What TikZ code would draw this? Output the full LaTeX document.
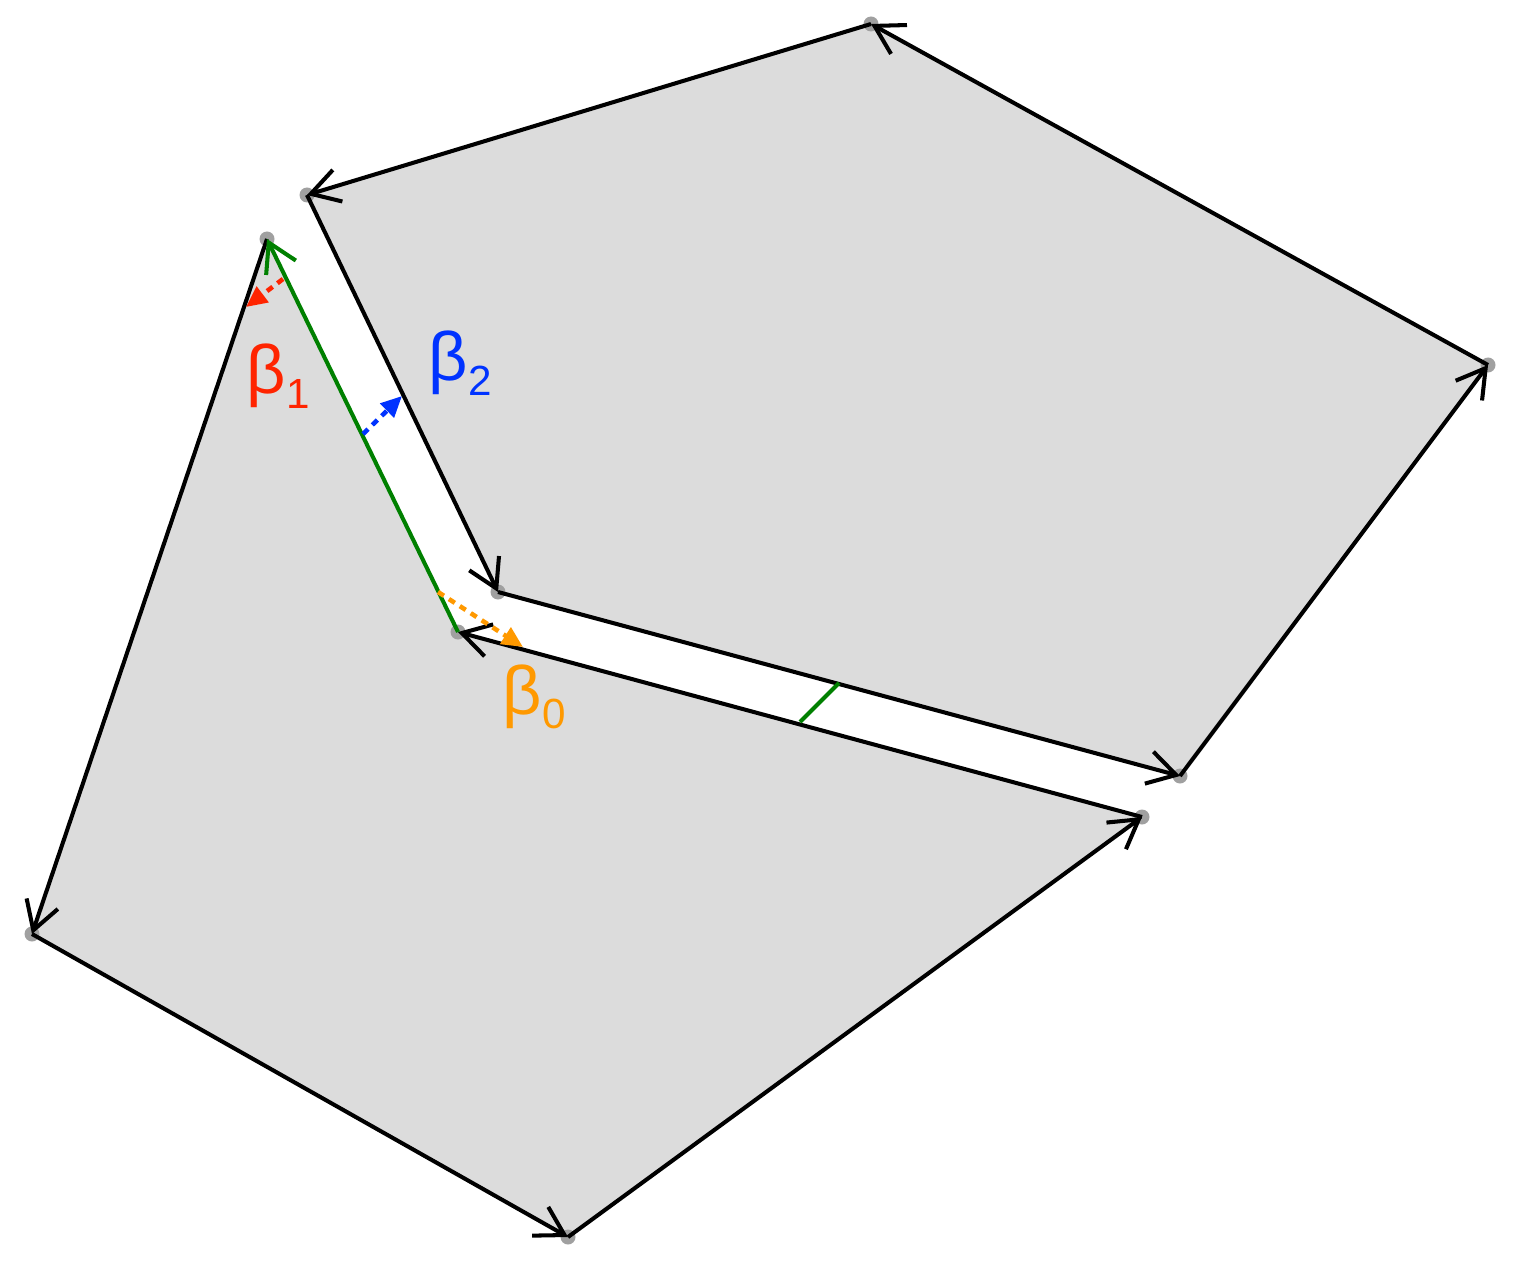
\documentclass[tikz,border=0pt]{standalone}
\usepackage{fontspec}
\setmainfont{Liberation Sans}
\usetikzlibrary{arrows.meta}

\definecolor{fillgray}{RGB}{220,220,220}
\definecolor{dotgray}{RGB}{160,160,160}
\definecolor{edgegreen}{RGB}{0,128,0}
\definecolor{betared}{RGB}{255,36,0}
\definecolor{betablue}{RGB}{0,51,255}
\definecolor{betaorange}{RGB}{255,153,0}

\newcommand{\betalabel}[1]{\fontsize{19.5}{22}\selectfont β\raisebox{-4pt}{\fontsize{12}{13}\selectfont #1}}

\begin{document}
\begin{tikzpicture}[
    edge/.style={line width=1.15pt, line join=round, -{Straight Barb[length=2.8mm,width=3.3mm]}},
    normal/.style={line width=1.3pt, dash pattern=on 0.7mm off 0.6mm, -{Triangle[length=2.1mm,width=1.9mm]}},
    vertex/.style={circle, fill=dotgray, inner sep=0pt, minimum size=1.5mm},
    beta/.style={anchor=base west, inner sep=0pt}]
    \useasboundingbox (0,0) rectangle (15.28,-12.65);

    % upper polygon
    \coordinate (u1) at (3.07,-1.95);
    \coordinate (u2) at (8.71,-0.24);
    \coordinate (u3) at (14.88,-3.65);
    \coordinate (u4) at (11.80,-7.76);
    \coordinate (u5) at (4.98,-5.92);
    % lower polygon
    \coordinate (l1) at (2.67,-2.39);
    \coordinate (l2) at (0.32,-9.34);
    \coordinate (l3) at (5.68,-12.37);
    \coordinate (l4) at (11.42,-8.17);
    \coordinate (l5) at (4.58,-6.32);

    \fill[fillgray] (u1) -- (u5) -- (u4) -- (u3) -- (u2) -- cycle;
    \fill[fillgray] (l1) -- (l2) -- (l3) -- (l4) -- (l5) -- cycle;

    \foreach \v in {u1,u2,u3,u4,u5,l1,l2,l3,l4,l5}
        \node[vertex] at (\v) {};

    \draw[edge] (u1) -- (u5);
    \draw[edge] (u5) -- (u4);
    \draw[edge] (u4) -- (u3);
    \draw[edge] (u3) -- (u2);
    \draw[edge] (u2) -- (u1);

    \draw[edge] (l1) -- (l2);
    \draw[edge] (l2) -- (l3);
    \draw[edge] (l3) -- (l4);
    \draw[edge] (l4) -- (l5);
    \draw[edge, edgegreen] (l5) -- (l1);

    % bridge across the gap
    \coordinate (g1) at (8.00,-7.22);
    \coordinate (g2) at (8.39,-6.83);
    \draw[edgegreen, line width=1.15pt] (g1) -- (g2);

    % normals
    \coordinate (r1) at (2.83,-2.79);
    \coordinate (r2) at (2.46,-3.07);
    \coordinate (b1) at (3.63,-4.34);
    \coordinate (b2) at (4.02,-3.96);
    \coordinate (o1) at (4.38,-5.92);
    \coordinate (o2) at (5.23,-6.47);
    \draw[normal, betared] (r1) -- (r2);
    \draw[normal, betablue] (b1) -- (b2);
    \draw[normal, betaorange] (o1) -- (o2);

    \node[beta, text=betared] (beta1) at (2.46,-3.94) {\betalabel{1}};
    \node[beta, text=betablue] (beta2) at (4.28,-3.81) {\betalabel{2}};
    \node[beta, text=betaorange] (beta0) at (5.02,-7.14) {\betalabel{0}};
\end{tikzpicture}
\end{document}
